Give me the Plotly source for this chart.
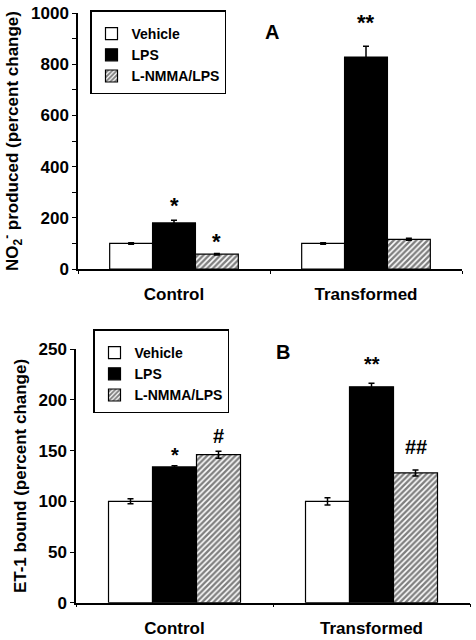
import plotly.graph_objects as go

categories = ["Control", "Transformed"]
series_names = ["Vehicle", "LPS", "L-NMMA/LPS"]

# Panel A: NO2- produced (percent change)
a_vehicle = [100, 100]
a_vehicle_err = [3, 3]
a_lps = [180, 828]
a_lps_err = [10, 42]
a_lnmma = [58, 116]
a_lnmma_err = [3, 4]

# Panel B: ET-1 bound (percent change)
b_vehicle = [100, 100]
b_vehicle_err = [2.5, 3.5]
b_lps = [134, 213]
b_lps_err = [1, 3.5]
b_lnmma = [146, 128]
b_lnmma_err = [3.5, 3]

a_ticks = [0, 200, 400, 600, 800, 1000]
b_ticks = [0, 50, 100, 150, 200, 250]

# significance marks: (category index, series index, text)
a_marks = [(0, 1, "*"), (0, 2, "*"), (1, 1, "**")]
b_marks = [(0, 1, "*"), (0, 2, "#"), (1, 1, "**"), (1, 2, "##")]

# pixel offsets of the marks above their error bars
a_mark_shift = [0, -3, 9]
b_mark_shift = [-2, 2, 6, 10]

FONT = "Liberation Sans, Arial, Helvetica, sans-serif"
W, H = 476, 640

styles = [
    dict(color="white", line=dict(color="black", width=1.2)),
    dict(color="black", line=dict(color="black", width=1.2)),
    dict(color="white", line=dict(color="black", width=1.2),
         pattern=dict(shape="/", fgcolor="black", bgcolor="white", size=4, solidity=0.6)),
]

fig = go.Figure()

panelA = [(a_vehicle, a_vehicle_err), (a_lps, a_lps_err), (a_lnmma, a_lnmma_err)]
panelB = [(b_vehicle, b_vehicle_err), (b_lps, b_lps_err), (b_lnmma, b_lnmma_err)]

for i, (vals, errs) in enumerate(panelA):
    fig.add_trace(go.Bar(
        x=categories, y=vals, name=series_names[i], marker=styles[i],
        error_y=dict(type="data", array=errs, color="black", thickness=1.5, width=3),
        xaxis="x", yaxis="y", legend="legend", offsetgroup=str(i),
    ))
for i, (vals, errs) in enumerate(panelB):
    fig.add_trace(go.Bar(
        x=categories, y=vals, name=series_names[i], marker=styles[i],
        error_y=dict(type="data", array=errs, color="black", thickness=1.5, width=3),
        xaxis="x2", yaxis="y2", legend="legend2", offsetgroup=str(i),
    ))

bargap = 0.33
step = (1 - bargap) / 3
annotations = []
for k, (ci, si, txt) in enumerate(a_marks):
    vals, errs = panelA[si]
    annotations.append(dict(x=ci + (si - 1) * step, y=vals[ci] + errs[ci], xref="x", yref="y",
                            text="<b>" + txt + "</b>", showarrow=False, yanchor="bottom",
                            yshift=a_mark_shift[k],
                            font=dict(family=FONT, size=22, color="black")))
for k, (ci, si, txt) in enumerate(b_marks):
    vals, errs = panelB[si]
    annotations.append(dict(x=ci + (si - 1) * step, y=vals[ci] + errs[ci], xref="x2", yref="y2",
                            text="<b>" + txt + "</b>", showarrow=False, yanchor="bottom",
                            yshift=b_mark_shift[k],
                            font=dict(family=FONT, size=20, color="black")))
annotations.append(dict(x=272 / W, y=1 - 32 / H, xref="paper", yref="paper", text="<b>A</b>",
                        xanchor="center", yanchor="middle",
                        showarrow=False, font=dict(family=FONT, size=20, color="black")))
annotations.append(dict(x=283 / W, y=1 - 352 / H, xref="paper", yref="paper", text="<b>B</b>",
                        xanchor="center", yanchor="middle",
                        showarrow=False, font=dict(family=FONT, size=20, color="black")))

TICKFONT = dict(family=FONT, size=17, color="black")
axis_common = dict(showline=True, linecolor="black", linewidth=1.5, showgrid=False, zeroline=False,
                   ticks="outside", tickcolor="black", tickwidth=1.2, automargin=False,
                   tickfont=TICKFONT)

LEGFONT = dict(family=FONT, size=14, color="black", weight="bold")

fig.update_layout(
    width=W, height=H, margin=dict(l=0, r=0, t=0, b=0, autoexpand=False),
    paper_bgcolor="white", plot_bgcolor="white",
    barmode="group", bargap=bargap, bargroupgap=0,
    font=dict(family=FONT, color="black"),
    xaxis=dict(domain=[78 / W, 462 / W], anchor="y", tickson="boundaries", ticklen=3,
               ticklabelstandoff=9,
               tickvals=categories, ticktext=["<b>" + c + "</b>" for c in categories],
               **axis_common),
    yaxis=dict(domain=[1 - 269 / H, 1 - 13 / H], anchor="x", range=[0, 1000], ticklen=4,
               tickvals=a_ticks, ticktext=["<b>%d</b>" % v for v in a_ticks],
               minor=dict(dtick=100, ticks="outside", ticklen=4, tickcolor="black", tickwidth=1.2),
               title=dict(text="<b>NO<sub>2</sub><sup>-</sup> produced (percent change)</b>",
                          font=dict(family=FONT, size=17, color="black"), standoff=8),
               **axis_common),
    xaxis2=dict(domain=[76 / W, 470 / W], anchor="y2", tickson="boundaries", ticklen=3,
                ticklabelstandoff=9,
                tickvals=categories, ticktext=["<b>" + c + "</b>" for c in categories],
                **axis_common),
    yaxis2=dict(domain=[1 - 602.7 / H, 1 - 349.3 / H], anchor="x2", range=[0, 250], ticklen=4,
                tickvals=b_ticks, ticktext=["<b>%d</b>" % v for v in b_ticks],
                title=dict(text="<b>ET-1 bound (percent change)</b>",
                           font=dict(family=FONT, size=17, color="black"), standoff=8),
                **axis_common),
    legend=dict(x=90 / W, y=1 - 10 / H, xanchor="left", yanchor="top", bgcolor="white",
                bordercolor="black", borderwidth=1.5, traceorder="normal",
                title=dict(text=" ", font=dict(size=5)),
                font=LEGFONT),
    legend2=dict(x=93 / W, y=1 - 329 / H, xanchor="left", yanchor="top", bgcolor="white",
                 bordercolor="black", borderwidth=1.5, traceorder="normal",
                 title=dict(text=" ", font=dict(size=5)),
                 font=LEGFONT),
    annotations=annotations,
)

fig.write_html("out.html", config={"displayModeBar": False},
               post_script="document.body.style.margin='0';document.body.style.padding='0';")
